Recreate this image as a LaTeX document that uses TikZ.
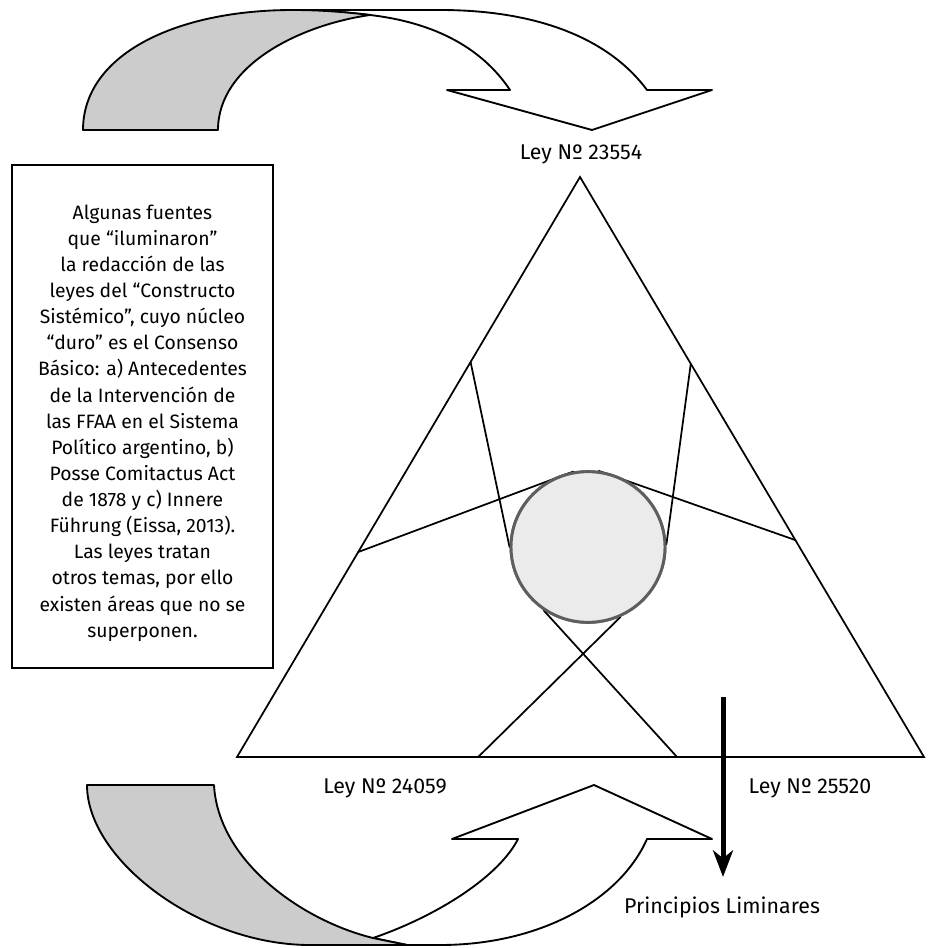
\documentclass[tikz,border=0pt]{standalone}
\usepackage{fontspec}
\setmainfont{Fira Sans}
\usetikzlibrary{arrows.meta,shapes.geometric,calc}
\definecolor{bandgray}{HTML}{CCCCCC}
\definecolor{corefill}{HTML}{EBEBEB}
\definecolor{coreline}{HTML}{5E5E5E}
\begin{document}
\begin{tikzpicture}[x=0.75pt,y=-0.75pt,
  edge/.style={line width=1.3pt, line cap=round},
  bandshape/.style={line width=1.4pt, line join=round},
  lbl/.style={font=\fontsize{16}{19}\selectfont, inner sep=0pt},
  notebox/.style={draw, line width=0.9pt, minimum width=195.75pt, minimum height=377.25pt, inner sep=0pt},
  notetext/.style={font=\fontsize{14.5}{19.6}\selectfont, align=center, inner sep=0pt},
  coreshape/.style={ellipse, draw=coreline, fill=corefill, line width=2.2pt, minimum width=115.5pt, minimum height=113pt, inner sep=0pt},
  bigarrow/.style={line width=3.75pt, -{Stealth[length=20pt, width=15pt, inset=6pt]}}
  ]
\useasboundingbox (0,0) rectangle (927,948);

% top curved arrow
\draw[bandshape, fill=white] (293,10) -- (440,10) .. controls (540,10) and (610,40) .. (647,90)
  -- (712,90) -- (592,130) -- (447,90) -- (510,90)
  .. controls (480,45) and (430,22) .. (370,15)
  .. controls (345,12) and (320,10) .. (293,10) -- cycle;
\draw[bandshape, fill=bandgray] (83,130) .. controls (83,55) and (175,10) .. (293,10)
  .. controls (320,10) and (345,12) .. (370,15)
  .. controls (300,25) and (218,65) .. (218,130) -- cycle;

% bottom curved arrow
\draw[bandshape, fill=white] (373,938) .. controls (440,915) and (500,875) .. (518,839)
  -- (452,839) -- (594,785) -- (712,839) -- (647,839)
  .. controls (620,900) and (540,945) .. (440,945) -- (407,945) -- cycle;
\draw[bandshape, fill=bandgray] (87,785) -- (214,785)
  .. controls (218,860) and (300,920) .. (373,938) -- (407,945) -- (310,945)
  .. controls (200,945) and (87,860) .. (87,785) -- cycle;

% note box
\node[notebox] (box) at (142.5,416.5) {};
\node[notetext] (note) at (142.5,423) {Algunas fuentes\\
que “iluminaron”\\
la redacción de las\\
leyes del “Constructo\\
Sistémico”, cuyo núcleo\\
“duro” es el Consenso\\
Básico: a) Antecedentes\\
de la Intervención de\\
las FFAA en el Sistema\\
Político argentino, b)\\
Posse Comitactus Act\\
de 1878 y c) Innere\\
Führung (Eissa, 2013).\\
Las leyes tratan\\
otros temas, por ello\\
existen áreas que no se\\
superponen.};

% triangle
\coordinate (A) at (580,177);
\coordinate (B) at (237,757);
\coordinate (C) at (924,757);
\draw[edge, line join=miter] (A) -- (B) -- (C) -- cycle;

\node[coreshape] (core) at (588,547) {};

\coordinate (l1) at ($(A)!0.319!(B)$);
\coordinate (l2) at ($(A)!0.6466!(B)$);
\coordinate (r1) at ($(A)!0.322!(C)$);
\coordinate (r2) at ($(A)!0.626!(C)$);
\coordinate (b1) at ($(B)!0.351!(C)$);
\coordinate (b2) at ($(B)!0.6405!(C)$);

\draw[edge] (l1) -- (core.180);
\draw[edge] (l2) -- (core.101);
\draw[edge] (r1) -- (core.2);
\draw[edge] (r2) -- (core.82);
\draw[edge] (b1) -- (core.-65);
\draw[edge] (b2) -- (core.-125);
\node[coreshape] (coretop) at (core.center) {};

% labels
\node[lbl] (ley1) at (581,154) {Ley Nº 23554};
\node[lbl] (ley2) at (385,788) {Ley Nº 24059};
\node[lbl] (ley3) at (810,788) {Ley Nº 25520};
\node[lbl] (princ) at (722,907) {Principios Liminares};

\coordinate (vtop) at (723,697);
\coordinate (vtip) at (723,877);
\draw[bigarrow] (vtop) -- (vtip);
\end{tikzpicture}
\end{document}
